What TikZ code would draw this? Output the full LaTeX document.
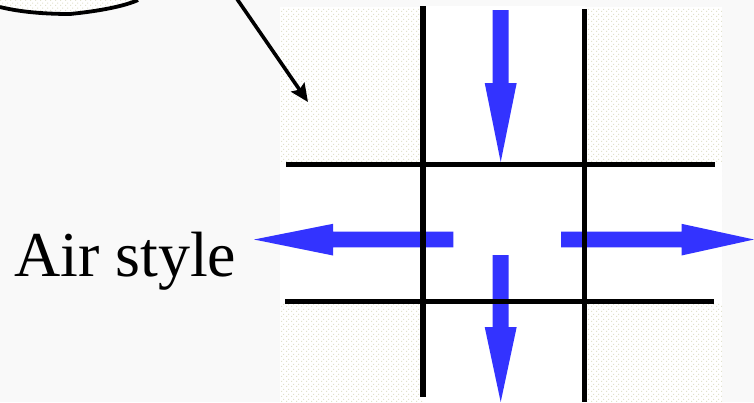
\documentclass[tikz,border=0pt]{standalone}
\usepackage{fontspec}
\setmainfont{Liberation Serif}
\usetikzlibrary{patterns.meta,arrows.meta}
\definecolor{bg}{RGB}{249,249,249}
\definecolor{dotc}{RGB}{225,225,205}
\definecolor{airblue}{RGB}{51,51,255}
\tikzdeclarepattern{
  name=softdots,
  type=uncolored,
  bounding box={(0pt,0pt) and (5pt,5pt)},
  tile size={(5pt,5pt)},
  code={\fill (1.25pt,1.25pt) rectangle (2.45pt,2.45pt);
        \fill (3.75pt,3.75pt) rectangle (4.95pt,4.95pt);}
}
\tikzset{
  dotted panel/.style={fill=white,postaction={pattern=softdots,pattern color=dotc}},
  grid line/.style={line width=5.3pt,black},
  air arrow/.style={fill=airblue,draw=none},
  pointer/.style={line width=3.6pt,-{Stealth[length=18pt,width=16pt,inset=3pt]}}
}
\begin{document}
\begin{tikzpicture}[x=1pt,y=-1pt]
\useasboundingbox (0,0) rectangle (754,402);
\fill[bg] (0,0) rectangle (754,402);
% dotted panel with white cross
\path[dotted panel] (280,7) rectangle (722,402);
\fill[white] (423,6) rectangle (584.5,402);
\fill[white] (280,164) rectangle (722,301.7);
% bubble bottom
\path[dotted panel] (0,0) -- (0,7) .. controls (20,12) and (45,14) .. (70,14)
   .. controls (100,11) and (125,6) .. (138,0) -- cycle;
\draw[line width=3.8pt] (0,7) .. controls (20,12) and (45,14) .. (70,14)
   .. controls (100,11) and (125,6) .. (138,0);
% pointer arrow
\coordinate (ps) at (237,-1);
\coordinate (pe) at (308,102);
\draw[pointer] (ps) -- (pe);
% blue arrows
\path[air arrow] (492.7,10) -- (508.7,10) -- (508.7,83) -- (516.7,83) -- (500.7,162)
   -- (484.7,83) -- (492.7,83) -- cycle;
\path[air arrow] (492.7,255) -- (508.7,255) -- (508.7,327) -- (516.7,327) -- (500.7,402)
   -- (484.7,327) -- (492.7,327) -- cycle;
\path[air arrow] (453.3,231.7) -- (453.3,247.3) -- (333,247.3) -- (333,255.5) -- (254,239.5)
   -- (333,223.8) -- (333,231.7) -- cycle;
\path[air arrow] (561,231.7) -- (561,247.3) -- (681.5,247.3) -- (681.5,255.5) -- (754,239.5)
   -- (681.5,223.8) -- (681.5,231.7) -- cycle;
% grid lines
\coordinate (vl1) at (423,6);  \coordinate (vl2) at (423,397);
\coordinate (vr1) at (584.5,9); \coordinate (vr2) at (584.5,402);
\coordinate (ht1) at (286,164.3); \coordinate (ht2) at (715,164.3);
\coordinate (hb1) at (285,301.7); \coordinate (hb2) at (714,301.7);
\draw[grid line] (vl1) -- (vl2);
\draw[grid line] (vr1) -- (vr2);
\draw[grid line] (ht1) -- (ht2);
\draw[grid line] (hb1) -- (hb2);
% label
\node[anchor=base west,inner sep=0pt,font=\fontsize{64}{64}\selectfont] (air) at (14,276) {Air style};
\end{tikzpicture}
\end{document}
